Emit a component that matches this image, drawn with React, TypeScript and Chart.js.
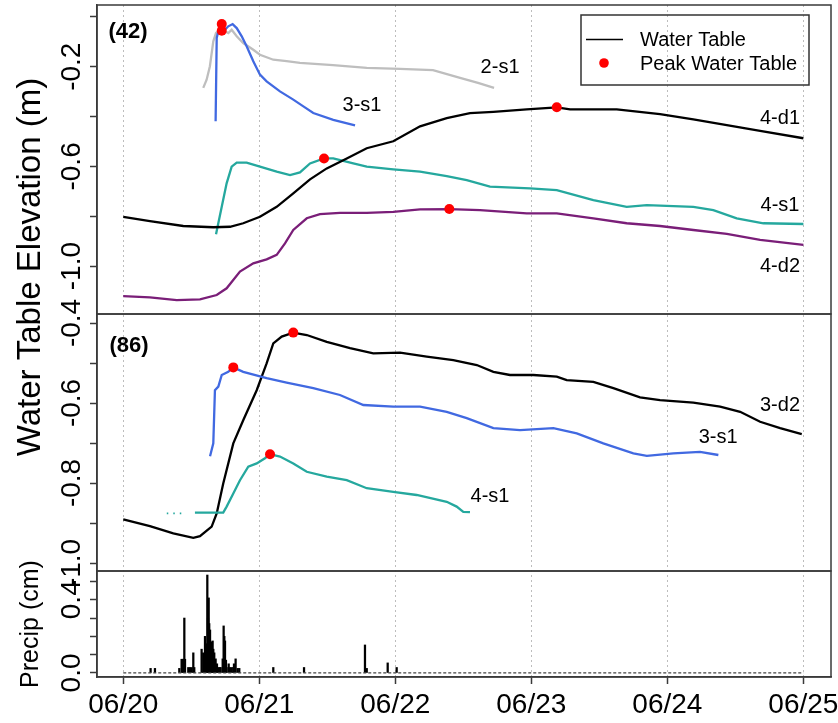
import React, { useEffect, useRef } from 'react';
import { Chart, registerables } from 'chart.js';

Chart.register(...registerables);

const FONT = "'Liberation Sans', Arial, Helvetica, sans-serif";

// x axis: days after 06/20 00:00
const xTickValues = [0, 1, 2, 3, 4, 5];
const xTickLabels = ['06/20', '06/21', '06/22', '06/23', '06/24', '06/25'];

// y ticks per panel
const yTopTicks = [0, -0.2, -0.4, -0.6, -0.8, -1.0];
const yTopLabels = ['', '-0.2', '', '-0.6', '', '-1.0'];
const yMidTicks = [-0.4, -0.5, -0.6, -0.7, -0.8, -0.9, -1.0];
const yMidLabels = ['-0.4', '', '-0.6', '', '-0.8', '', '-1.0'];
const yPrecipTicks = [0, 0.1, 0.2, 0.3, 0.4, 0.5];
const yPrecipLabels = ['0.0', '', '', '', '0.4', ''];

// ---- Site (42) ----
const s42_2s1_t = [0.588, 0.613, 0.637, 0.662, 0.682, 0.711, 0.748, 0.772, 0.797, 0.834, 0.882, 0.956, 1.005, 1.103, 1.201, 1.299, 1.542, 1.790, 2.035, 2.277, 2.476, 2.608, 2.726];
const s42_2s1_v = [-0.285, -0.252, -0.198, -0.098, -0.065, -0.052, -0.058, -0.065, -0.052, -0.078, -0.105, -0.132, -0.152, -0.172, -0.178, -0.185, -0.194, -0.205, -0.209, -0.214, -0.245, -0.265, -0.285];

const s42_3s1_t = [0.679, 0.687, 0.699, 0.748, 0.772, 0.804, 0.834, 0.871, 0.907, 0.956, 1.005, 1.054, 1.152, 1.250, 1.324, 1.397, 1.544, 1.704];
const s42_3s1_v = [-0.419, -0.085, -0.058, -0.052, -0.038, -0.029, -0.045, -0.078, -0.118, -0.178, -0.232, -0.259, -0.299, -0.332, -0.359, -0.386, -0.413, -0.435];

const s42_4d1_t = [0, 0.196, 0.441, 0.662, 0.785, 0.882, 1.005, 1.128, 1.250, 1.373, 1.496, 1.643, 1.790, 1.985, 2.182, 2.378, 2.549, 2.721, 2.966, 3.187, 3.285, 3.628, 3.946, 4.191, 4.437, 4.682, 5.0];
const s42_4d1_v = [-0.802, -0.819, -0.839, -0.844, -0.842, -0.828, -0.802, -0.762, -0.708, -0.652, -0.608, -0.568, -0.527, -0.499, -0.439, -0.406, -0.386, -0.381, -0.371, -0.363, -0.371, -0.371, -0.390, -0.411, -0.434, -0.457, -0.487];

const s42_4s1_t = [0.682, 0.724, 0.760, 0.797, 0.834, 0.907, 1.005, 1.128, 1.226, 1.299, 1.373, 1.476, 1.544, 1.691, 1.790, 1.985, 2.182, 2.378, 2.525, 2.696, 2.990, 3.187, 3.456, 3.701, 3.849, 4.191, 4.338, 4.510, 4.706, 5.0];
const s42_4s1_v = [-0.872, -0.762, -0.668, -0.601, -0.585, -0.585, -0.601, -0.621, -0.635, -0.624, -0.588, -0.568, -0.568, -0.588, -0.601, -0.612, -0.621, -0.639, -0.655, -0.681, -0.688, -0.695, -0.735, -0.762, -0.755, -0.762, -0.775, -0.808, -0.828, -0.831];

const s42_4d2_t = [0, 0.196, 0.393, 0.564, 0.687, 0.760, 0.858, 0.956, 1.054, 1.128, 1.189, 1.250, 1.349, 1.446, 1.593, 1.790, 1.985, 2.182, 2.397, 2.623, 2.966, 3.187, 3.456, 3.701, 3.946, 4.191, 4.437, 4.682, 5.0];
const s42_4d2_v = [-1.120, -1.125, -1.136, -1.133, -1.116, -1.089, -1.022, -0.989, -0.973, -0.955, -0.909, -0.855, -0.808, -0.791, -0.786, -0.786, -0.782, -0.772, -0.771, -0.775, -0.788, -0.788, -0.808, -0.828, -0.839, -0.855, -0.871, -0.895, -0.915];

const s42_peak_t = [0.724, 0.724, 3.187, 1.476, 2.397];
const s42_peak_v = [-0.029, -0.056, -0.363, -0.568, -0.771];

// ---- Site (86) ----
const s86_3d2_t = [0, 0.196, 0.368, 0.515, 0.564, 0.650, 0.687, 0.735, 0.809, 0.882, 0.981, 1.054, 1.103, 1.165, 1.250, 1.349, 1.496, 1.667, 1.838, 2.035, 2.231, 2.426, 2.599, 2.721, 2.843, 3.015, 3.187, 3.260, 3.456, 3.603, 3.799, 3.946, 4.191, 4.388, 4.535, 4.682, 4.829, 4.988];
const s86_3d2_v = [-0.891, -0.908, -0.926, -0.937, -0.933, -0.909, -0.876, -0.801, -0.701, -0.643, -0.568, -0.501, -0.451, -0.434, -0.424, -0.430, -0.447, -0.463, -0.476, -0.474, -0.484, -0.493, -0.505, -0.522, -0.530, -0.530, -0.534, -0.543, -0.547, -0.563, -0.586, -0.593, -0.599, -0.609, -0.622, -0.647, -0.663, -0.678];

const s86_3s1_t = [0.638, 0.662, 0.674, 0.699, 0.724, 0.772, 0.809, 0.882, 1.054, 1.201, 1.397, 1.593, 1.765, 1.985, 2.182, 2.378, 2.525, 2.721, 2.917, 3.162, 3.334, 3.529, 3.750, 3.849, 4.044, 4.240, 4.375];
const s86_3s1_v = [-0.733, -0.701, -0.568, -0.559, -0.530, -0.522, -0.511, -0.522, -0.538, -0.549, -0.563, -0.580, -0.605, -0.609, -0.609, -0.622, -0.638, -0.663, -0.668, -0.663, -0.676, -0.701, -0.726, -0.732, -0.726, -0.722, -0.730];

const s86_4s1_gap_t = [0.32, 0.45];
const s86_4s1_gap_v = [-0.876, -0.876];
const s86_4s1_t = [0.527, 0.735, 0.760, 0.809, 0.858, 0.919, 0.981, 1.042, 1.079, 1.152, 1.250, 1.349, 1.496, 1.643, 1.790, 1.985, 2.157, 2.378, 2.451, 2.500, 2.549];
const s86_4s1_v = [-0.874, -0.874, -0.859, -0.826, -0.793, -0.759, -0.751, -0.738, -0.728, -0.734, -0.751, -0.772, -0.784, -0.793, -0.813, -0.822, -0.830, -0.847, -0.859, -0.872, -0.873];

const s86_peak_t = [1.250, 0.809, 1.079];
const s86_peak_v = [-0.424, -0.511, -0.728];

// ---- Precipitation (cm) ----
const precipT = [0.201, 0.233, 0.412, 0.429, 0.437, 0.444, 0.449, 0.454, 0.478, 0.490, 0.503, 0.515, 0.522, 0.576, 0.588, 0.601, 0.610, 0.618, 0.623, 0.628, 0.632, 0.638, 0.645, 0.650, 0.657, 0.662, 0.669, 0.679, 0.689, 0.699, 0.709, 0.716, 0.731, 0.738, 0.743, 0.748, 0.755, 0.760, 0.775, 0.785, 0.797, 0.809, 0.814, 0.826, 0.841, 0.853, 1.103, 1.329, 1.777, 1.790, 1.944, 2.010];
const precipV = [0.025, 0.025, 0.025, 0.075, 0.075, 0.075, 0.30, 0.075, 0.03, 0.03, 0.03, 0.11, 0.03, 0.13, 0.11, 0.20, 0.16, 0.535, 0.30, 0.41, 0.27, 0.235, 0.17, 0.148, 0.175, 0.13, 0.11, 0.077, 0.05, 0.03, 0.03, 0.03, 0.077, 0.257, 0.20, 0.175, 0.07, 0.03, 0.05, 0.03, 0.03, 0.03, 0.05, 0.077, 0.025, 0.025, 0.03, 0.03, 0.153, 0.025, 0.055, 0.03];
const precipBaseT = [0, 5];
const precipBaseV = [0, 0];

// ---- text annotations (data coordinates) ----
const seriesLabelText = ['2-s1', '3-s1', '4-d1', '4-s1', '4-d2', '3-d2', '3-s1', '4-s1'];
const seriesLabelAxis = ['yTop', 'yTop', 'yTop', 'yTop', 'yTop', 'yMid', 'yMid', 'yMid'];
const seriesLabelT = [2.770, 1.755, 4.828, 4.828, 4.828, 4.828, 4.373, 2.696];
const seriesLabelV = [-0.205, -0.354, -0.406, -0.755, -1.0, -0.605, -0.685, -0.8325];
const panelLabelText = ['(42)', '(86)'];
const panelLabelAxis = ['yTop', 'yMid'];
const panelLabelT = [0.035, 0.043];
const panelLabelV = [-0.061, -0.4575];

const COLORS = {
  gray: '#BEBEBE',
  blue: '#4169E1',
  teal: '#25A89E',
  purple: '#7A1E78',
  black: '#000000',
  red: '#FF0000',
  frame: '#3a3a3a',
  grid: '#BDBDBD',
};

const pts = (t: number[], v: number[]) => t.map((x, i) => ({ x, y: v[i] }));

const line = (label: string, t: number[], v: number[], color: string, axis: string, extra: any = {}) => ({
  type: 'line',
  label,
  data: pts(t, v),
  borderColor: color,
  backgroundColor: color,
  borderWidth: 2.3,
  pointRadius: 0,
  tension: 0,
  yAxisID: axis,
  ...extra,
});

const noPad = (s: any) => {
  s.paddingTop = 0;
  s.paddingBottom = 0;
  s.paddingLeft = 0;
  s.paddingRight = 0;
};

const decorPlugin = {
  id: 'decor',
  afterDraw(chart: any) {
    const { ctx, chartArea, scales } = chart;
    const xs = scales.x;
    ctx.save();
    // panel frames
    ctx.strokeStyle = COLORS.frame;
    ctx.lineWidth = 1.5;
    ['yTop', 'yMid', 'yP'].forEach((id) => {
      const s = scales[id];
      ctx.strokeRect(chartArea.left, s.top, chartArea.right - chartArea.left, s.bottom - s.top);
    });

    // series labels
    ctx.fillStyle = '#000';
    ctx.textAlign = 'center';
    ctx.textBaseline = 'middle';
    ctx.font = `20px ${FONT}`;
    seriesLabelText.forEach((txt, i) => {
      const ys = scales[seriesLabelAxis[i]];
      ctx.fillText(txt, xs.getPixelForValue(seriesLabelT[i]), ys.getPixelForValue(seriesLabelV[i]));
    });
    ctx.font = `bold 22px ${FONT}`;
    panelLabelText.forEach((txt, i) => {
      const ys = scales[panelLabelAxis[i]];
      ctx.fillText(txt, xs.getPixelForValue(panelLabelT[i]), ys.getPixelForValue(panelLabelV[i]));
    });

    // axis titles
    ctx.save();
    ctx.translate(31, chartArea.top + 262);
    ctx.rotate(-Math.PI / 2);
    ctx.font = `33px ${FONT}`;
    ctx.fillText('Water Table Elevation (m)', 0, 0);
    ctx.restore();
    ctx.save();
    const p = scales.yP;
    ctx.translate(31, (p.top + p.bottom) / 2);
    ctx.rotate(-Math.PI / 2);
    ctx.font = `25px ${FONT}`;
    ctx.fillText('Precip (cm)', 0, 0);
    ctx.restore();

    // legend
    const lx = chartArea.right - 250;
    const ly = chartArea.top + 10;
    ctx.strokeStyle = '#333';
    ctx.lineWidth = 1.5;
    ctx.strokeRect(lx, ly, 228, 70);
    ctx.strokeStyle = '#000';
    ctx.lineWidth = 1.5;
    ctx.beginPath();
    ctx.moveTo(lx + 5, ly + 24.5);
    ctx.lineTo(lx + 42, ly + 24.5);
    ctx.stroke();
    ctx.fillStyle = COLORS.red;
    ctx.beginPath();
    ctx.arc(lx + 23, ly + 48, 4.8, 0, Math.PI * 2);
    ctx.fill();
    ctx.fillStyle = '#000';
    ctx.textAlign = 'left';
    ctx.font = `20px ${FONT}`;
    ctx.fillText('Water Table', lx + 59, ly + 25);
    ctx.fillText('Peak Water Table', lx + 59, ly + 49);
    ctx.restore();
  },
};

const yAxisBase = (extra: any) => ({
  type: 'linear',
  position: 'left',
  stack: 'panels',
  afterFit: (s: any) => {
    s.width = 97;
    noPad(s);
  },
  grid: {
    display: true,
    drawOnChartArea: false,
    drawTicks: true,
    offset: false,
    tickLength: 7,
    tickColor: COLORS.frame,
    tickWidth: 1.5,
  },
  border: { display: true, color: COLORS.frame, width: 1.5 },
  ...extra,
});

export default function App() {
  const ref = useRef<HTMLCanvasElement>(null);

  useEffect(() => {
    const canvas = ref.current;
    if (!canvas) return;
    Chart.defaults.font.family = FONT;
    Chart.defaults.color = '#000';

    const datasets: any[] = [
      line('Peak 42', s42_peak_t, s42_peak_v, COLORS.red, 'yTop', {
        showLine: false,
        pointRadius: 5,
        pointBorderWidth: 0,
        pointBackgroundColor: COLORS.red,
      }),
      line('Peak 86', s86_peak_t, s86_peak_v, COLORS.red, 'yMid', {
        showLine: false,
        pointRadius: 5,
        pointBorderWidth: 0,
        pointBackgroundColor: COLORS.red,
      }),
      line('42 3-s1', s42_3s1_t, s42_3s1_v, COLORS.blue, 'yTop'),
      line('42 2-s1', s42_2s1_t, s42_2s1_v, COLORS.gray, 'yTop'),
      line('42 4-d1', s42_4d1_t, s42_4d1_v, COLORS.black, 'yTop'),
      line('42 4-s1', s42_4s1_t, s42_4s1_v, COLORS.teal, 'yTop'),
      line('42 4-d2', s42_4d2_t, s42_4d2_v, COLORS.purple, 'yTop'),
      line('86 3-s1', s86_3s1_t, s86_3s1_v, COLORS.blue, 'yMid'),
      line('86 4-s1', s86_4s1_t, s86_4s1_v, COLORS.teal, 'yMid'),
      line('86 4-s1 gap', s86_4s1_gap_t, s86_4s1_gap_v, COLORS.teal, 'yMid', { borderDash: [1.5, 5], borderWidth: 1.8 }),
      line('86 3-d2', s86_3d2_t, s86_3d2_v, COLORS.black, 'yMid'),
      line('Precip base', precipBaseT, precipBaseV, '#444', 'yP', { borderDash: [3, 2], borderWidth: 1.3 }),
      {
        type: 'bar',
        label: 'Precip',
        data: pts(precipT, precipV),
        backgroundColor: '#000',
        borderWidth: 0,
        barThickness: 1.6,
        yAxisID: 'yP',
      },
    ];

    const chart = new Chart(canvas, {
      type: 'line',
      data: { datasets },
      plugins: [decorPlugin],
      options: {
        animation: false,
        responsive: false,
        devicePixelRatio: 1,
        events: [],
        layout: { padding: { top: 5, right: 7, left: 0, bottom: 0 } },
        plugins: { legend: { display: false }, tooltip: { enabled: false } },
        scales: {
          x: {
            type: 'linear',
            position: 'bottom',
            min: -0.193,
            max: 5.203,
            offset: false,
            afterFit: (s: any) => {
              s.height = 46;
              noPad(s);
            },
            afterBuildTicks: (s: any) => {
              s.ticks = xTickValues.map((value) => ({ value }));
            },
            ticks: {
              autoSkip: false,
              maxRotation: 0,
              minRotation: 0,
              padding: 4,
              font: { size: 28 },
              color: '#000',
              callback: (_v: any, i: number) => xTickLabels[i],
            },
            grid: {
              display: true,
              drawOnChartArea: true,
              offset: false,
              color: COLORS.grid,
              lineWidth: 1,
              drawTicks: true,
              tickLength: 7,
              tickColor: COLORS.frame,
              tickWidth: 1.5,
            },
            border: { display: true, color: COLORS.frame, width: 1.5, dash: [2, 3] },
          },
          yTop: yAxisBase({
            weight: 3,
            stackWeight: 309,
            min: -1.192,
            max: 0.0475,
            afterBuildTicks: (s: any) => {
              s.ticks = yTopTicks.map((value) => ({ value }));
            },
            ticks: {
              autoSkip: false,
              minRotation: 90,
              maxRotation: 90,
              crossAlign: 'center',
              padding: -6,
              font: { size: 28 },
              color: '#000',
              callback: (_v: any, i: number) => yTopLabels[i],
            },
          }),
          yMid: yAxisBase({
            weight: 2,
            stackWeight: 257,
            min: -1.02,
            max: -0.3775,
            afterBuildTicks: (s: any) => {
              s.ticks = yMidTicks.map((value) => ({ value }));
            },
            ticks: {
              autoSkip: false,
              minRotation: 90,
              maxRotation: 90,
              crossAlign: 'center',
              padding: -6,
              font: { size: 28 },
              color: '#000',
              callback: (_v: any, i: number) => yMidLabels[i],
            },
          }),
          yP: yAxisBase({
            weight: 1,
            stackWeight: 106,
            min: -0.022,
            max: 0.557,
            afterBuildTicks: (s: any) => {
              s.ticks = yPrecipTicks.map((value) => ({ value }));
            },
            ticks: {
              autoSkip: false,
              minRotation: 90,
              maxRotation: 90,
              crossAlign: 'center',
              padding: -1.5,
              font: { size: 28 },
              color: '#000',
              callback: (_v: any, i: number) => yPrecipLabels[i],
            },
          }),
        },
      } as any,
    } as any);

    return () => chart.destroy();
  }, []);

  return (
    <div style={{ position: 'absolute', left: 0, top: 0, width: 838, height: 723, background: '#fff' }}>
      <canvas ref={ref} width={838} height={723} style={{ display: 'block', width: 838, height: 723 }} />
    </div>
  );
}
